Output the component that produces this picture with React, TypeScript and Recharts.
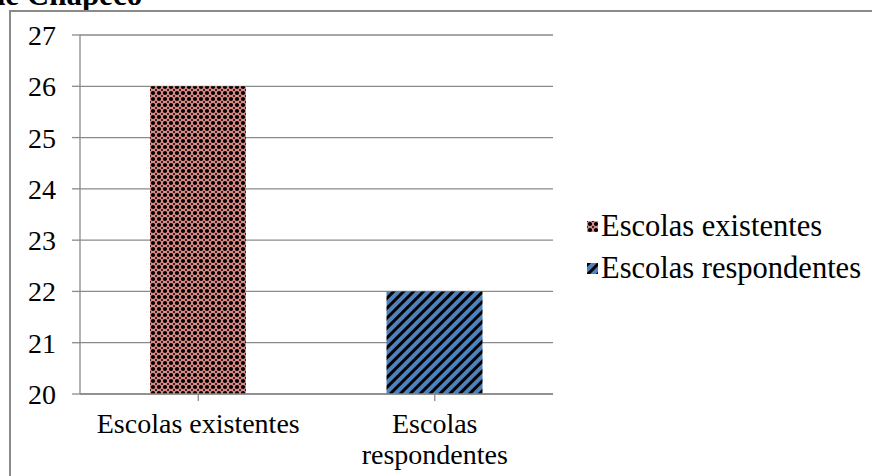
import { BarChart, Bar, XAxis, YAxis, CartesianGrid, Cell } from 'recharts';

const categories = ['Escolas existentes', 'Escolas respondentes'];
const values = [26, 22];
const yTicks = [20, 21, 22, 23, 24, 25, 26, 27];
const fills = ['url(#dots)', 'url(#stripes)'];

const data = categories.map((name, i) => ({ name, value: values[i] }));

const FONT = '"Liberation Serif", "Times New Roman", serif';

function XTick({ x, y, payload }: any) {
  const lines = payload.value === 'Escolas respondentes' ? ['Escolas', 'respondentes'] : [payload.value];
  return (
    <text x={x} y={y + 30} textAnchor="middle" fontFamily={FONT} fontSize={28} fill="#000">
      {lines.map((l: string, i: number) => (
        <tspan key={i} x={x} dy={i === 0 ? 0 : 31}>{l}</tspan>
      ))}
    </text>
  );
}

function LegendBox() {
  return (
    <div style={{ position: 'absolute', left: 587, top: 205, fontFamily: FONT, fontSize: 30.5, color: '#000', whiteSpace: 'nowrap' }}>
      {categories.map((c, i) => (
        <div key={c} style={{ display: 'flex', alignItems: 'center', height: 42 }}>
          <svg width={11} height={11} style={{ marginRight: 3 }}>
            <rect width={11} height={11} fill={fills[i]} />
          </svg>
          <span>{c}</span>
        </div>
      ))}
    </div>
  );
}

export default function App() {
  return (
    <div style={{ position: 'fixed', left: 0, top: 0, width: 872, height: 476, overflow: 'hidden', background: '#fff' }}>
      <div style={{ position: 'absolute', left: -12, top: -21, fontFamily: FONT, fontWeight: 'bold', fontSize: 31, lineHeight: '31px', whiteSpace: 'nowrap' }}>
        de Chapecó
      </div>
      <div style={{ position: 'absolute', left: 9, top: 10, width: 900, height: 500, border: '2px solid #8a8a8a' }} />
      <div style={{ position: 'absolute', left: 0, top: 0 }}>
        <BarChart width={872} height={476} data={data} margin={{ top: 35, right: 319, left: 10, bottom: 0 }} barSize={96}>
          <defs>
            <pattern id="dots" width="6" height="6" patternUnits="userSpaceOnUse">
              <rect width="6" height="6" fill="#d98a85" />
              <circle cx="3" cy="3" r="2.1" fill="#000" />
              <circle cx="0" cy="0" r="1" fill="#000" />
              <circle cx="6" cy="0" r="1" fill="#000" />
              <circle cx="0" cy="6" r="1" fill="#000" />
              <circle cx="6" cy="6" r="1" fill="#000" />
            </pattern>
            <pattern id="stripes" width="7" height="7" patternUnits="userSpaceOnUse" patternTransform="rotate(45)">
              <rect width="7" height="7" fill="#4f81bd" />
              <rect x="0" y="0" width="3" height="7" fill="#000" />
            </pattern>
          </defs>
          <CartesianGrid vertical={false} stroke="#8a8a8a" strokeWidth={1.3} />
          <XAxis
            dataKey="name"
            height={82}
            interval={0}
            tick={<XTick />}
            tickLine={{ stroke: '#8a8a8a', strokeWidth: 1.3 }}
            axisLine={{ stroke: '#8a8a8a', strokeWidth: 1.3 }}
            tickSize={7}
          />
          <YAxis
            width={70}
            domain={[20, 27]}
            ticks={yTicks}
            interval={0}
            tick={{ fontFamily: FONT, fontSize: 28, fill: '#000' }}
            tickLine={{ stroke: '#8a8a8a', strokeWidth: 1.3 }}
            axisLine={{ stroke: '#8a8a8a', strokeWidth: 1.3 }}
            tickSize={8}
            tickMargin={16}
          />
          <Bar dataKey="value" isAnimationActive={false}>
            {data.map((_, i) => <Cell key={i} fill={fills[i]} />)}
          </Bar>
        </BarChart>
      </div>
      <LegendBox />
    </div>
  );
}
